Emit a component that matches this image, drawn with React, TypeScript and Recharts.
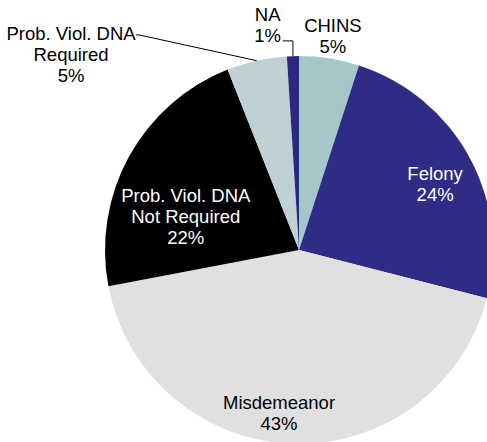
import React from 'react';
import { PieChart, Pie, Cell } from 'recharts';

const names = [
  'CHINS',
  'Felony',
  'Misdemeanor',
  'Prob. Viol. DNA Not Required',
  'Prob. Viol. DNA Required',
  'NA',
];
const values = [5, 24, 43, 22, 5, 1];
const labelLines = [
  ['CHINS'],
  ['Felony'],
  ['Misdemeanor'],
  ['Prob. Viol. DNA', 'Not Required'],
  ['Prob. Viol. DNA', 'Required'],
  ['NA'],
];
const colors = ['#a4c7c8', '#2e2c85', '#e0e0e0', '#000000', '#bfd1d5', '#2b2a7f'];
const textColors = ['#000', '#fff', '#000', '#fff', '#000', '#000'];
// label placement: radius factor and angle shift from mid angle
const labelRadius = [1.118, 0.78, 0.845, 0.61, 1.55, 1.174];
const labelShift = [0, -2.9, -5.2, 11.9, 36.7, 6.1];

const data = names.map((name, i) => ({ name, value: values[i] }));

const RAD = Math.PI / 180;
const FONT = 18.5;
const LH = 21;

function polar(cx: number, cy: number, r: number, a: number) {
  return { x: cx + r * Math.cos(-a * RAD), y: cy + r * Math.sin(-a * RAD) };
}

function renderLabel(props: any) {
  const { cx, cy, midAngle, outerRadius, index, percent } = props;
  const lines = [...labelLines[index], `${Math.round(percent * 100)}%`];
  const p = polar(cx, cy, outerRadius * labelRadius[index], midAngle + labelShift[index]);
  const top = p.y - ((lines.length - 1) * LH) / 2;
  let leader = null;
  const edge = polar(cx, cy, outerRadius, midAngle);
  if (names[index] === 'Prob. Viol. DNA Required') {
    const rightX = p.x + 65;
    leader = (
      <polyline
        points={`${edge.x},${edge.y} ${rightX + 3},${top + 2} ${rightX},${top + 2}`}
        fill="none"
        stroke="#000"
        strokeWidth={1}
      />
    );
  } else if (names[index] === 'NA') {
    const y = top + LH + 6;
    leader = (
      <polyline
        points={`${edge.x},${edge.y} ${edge.x},${y} ${p.x + 15},${y}`}
        fill="none"
        stroke="#000"
        strokeWidth={1}
      />
    );
  }
  return (
    <g key={`lbl-${index}`}>
      {leader}
      <text
        x={p.x}
        y={top}
        textAnchor="middle"
        dominantBaseline="central"
        fill={textColors[index]}
        fontSize={FONT}
        fontFamily="'Liberation Sans', Arial, sans-serif"
      >
        {lines.map((t, j) => (
          <tspan key={j} x={p.x} dy={j === 0 ? 0 : LH}>
            {t}
          </tspan>
        ))}
      </text>
    </g>
  );
}

export default function App() {
  return (
    <div style={{ position: 'absolute', left: 0, top: 0, width: 487, height: 442, overflow: 'hidden' }}>
      <PieChart width={487} height={442} margin={{ top: 0, right: 0, bottom: 0, left: 0 }}>
        <Pie
          data={data}
          dataKey="value"
          nameKey="name"
          cx={299}
          cy={250}
          outerRadius={194}
          startAngle={90}
          endAngle={-270}
          stroke="none"
          label={renderLabel}
          labelLine={false}
          isAnimationActive={false}
        >
          {data.map((d, i) => (
            <Cell key={d.name} fill={colors[i]} />
          ))}
        </Pie>
      </PieChart>
    </div>
  );
}
